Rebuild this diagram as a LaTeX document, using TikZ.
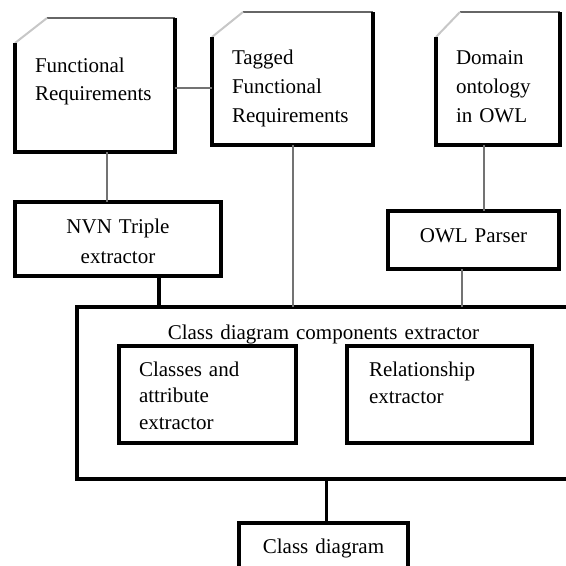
\documentclass[tikz,border=0pt]{standalone}
\usepackage{fontspec}
\setmainfont{Liberation Serif}
\usepackage{tikz}
\usetikzlibrary{calc}

% outline of a document box with its top left corner cut off
\newcommand{\docframe}[2]{%
  \draw[top edge] ($(#1.north west)+(#2,0)$) -- (#1.north east);
  \draw[cut edge] ($(#1.north west)+(0,25)$) -- ($(#1.north west)+(#2,0)$);
  \draw[box edge] ($(#1.north west)+(0,25)$) -- (#1.south west) -- (#1.south east) -- (#1.north east);
}

\begin{document}
\begin{tikzpicture}[x=1pt,y=-1pt,
  box/.style={draw,line width=3.3pt,outer sep=0pt,inner ysep=0pt,anchor=north west,font=\fontsize{21}{28}\selectfont},
  docbox/.style={outer sep=0pt,inner ysep=0pt,inner xsep=20pt,anchor=north west,align=left,font=\fontsize{21}{29}\selectfont},
  box edge/.style={line width=3.3pt},
  top edge/.style={line width=2pt,black!60},
  cut edge/.style={line width=2pt,black!22},
  link/.style={line width=2pt,black!55}]

\useasboundingbox (0,0) rectangle (566,566);

% input documents
\node[docbox,font=\fontsize{21}{28}\selectfont,text width=120pt,text height=54pt,text depth=80pt] (fr) at (15,18) {Functional\\Requirements};
\node[docbox,text width=121pt,text height=52pt,text depth=81pt] (tfr) at (212,12) {Tagged\\Functional\\Requirements};
\node[docbox,text width=84pt,text height=52pt,text depth=81pt] (dom) at (436,12) {Domain\\ontology\\in OWL};
\docframe{fr}{32}
\docframe{tfr}{31}
\docframe{dom}{24}

% preprocessing
\node[box,inner xsep=0pt,text width=206pt,align=center,font=\fontsize{21}{30}\selectfont,text height=31pt,text depth=43pt] (nvn) at (15,202) {NVN Triple\\extractor};
\node[box,inner xsep=0pt,text width=171pt,align=center,text height=31pt,text depth=27pt] (owl) at (388,211) {OWL Parser};

% extractor
\node[box,inner xsep=0pt,text width=493pt,align=center,text height=32pt,text depth=140pt] (main) at (77,307) {Class diagram components extractor};
\node[box,inner xsep=20pt,text width=137pt,align=left,font=\fontsize{21}{26.5}\selectfont,text height=30pt,text depth=67pt] (cls) at (119,346) {Classes and\\attribute\\extractor};
\node[box,inner xsep=22pt,text width=141pt,align=left,font=\fontsize{21}{27}\selectfont,text height=30pt,text depth=67pt] (rel) at (347,346) {Relationship\\extractor};

% output
\node[box,inner xsep=0pt,text width=169pt,align=center,text height=30pt,text depth=57pt] (cd) at (239,523) {Class diagram};

% connectors
\draw[link] ([yshift=-3pt]fr.east) -- ([yshift=-3pt]fr.east -| tfr.west);
\draw[link] ([xshift=12pt]fr.south) -- ([xshift=12pt]fr.south |- nvn.north);
\draw[link] (tfr.south) -- (tfr.south |- main.north);
\draw[link] ([xshift=-14pt]dom.south) -- ([xshift=-14pt]dom.south |- owl.north);
\draw[link] ([xshift=-12pt]owl.south) -- ([xshift=-12pt]owl.south |- main.north);
\draw[box edge] ([xshift=41pt]nvn.south) -- ([xshift=41pt]nvn.south |- main.north);
\draw[box edge] ([xshift=3pt]cd.north) -- ([xshift=3pt]cd.north |- main.south);
\end{tikzpicture}
\end{document}
